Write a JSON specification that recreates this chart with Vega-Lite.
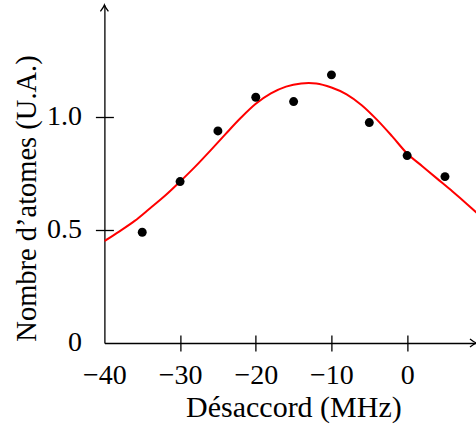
{
  "$schema": "https://vega.github.io/schema/vega-lite/v6.json",
  "width": 372,
  "height": 338,
  "autosize": {"type": "none"},
  "padding": {"left": 104.4, "top": 5, "right": 0, "bottom": 87},
  "background": "white",
  "config": {"view": {"stroke": null}, "font": "Liberation Serif"},
  "datasets": {
    "measures": [
      {"detuning": -35, "atoms": 0.49},
      {"detuning": -30, "atoms": 0.714},
      {"detuning": -25, "atoms": 0.938},
      {"detuning": -20, "atoms": 1.087},
      {"detuning": -15, "atoms": 1.068},
      {"detuning": -10, "atoms": 1.186},
      {"detuning": -5, "atoms": 0.975},
      {"detuning": 0, "atoms": 0.829},
      {"detuning": 5, "atoms": 0.736}
    ],
    "fit": [
      {"detuning": -40, "atoms": 0.451},
      {"detuning": -38, "atoms": 0.494},
      {"detuning": -36, "atoms": 0.54},
      {"detuning": -34, "atoms": 0.595},
      {"detuning": -32, "atoms": 0.651},
      {"detuning": -30, "atoms": 0.714},
      {"detuning": -28, "atoms": 0.78},
      {"detuning": -26, "atoms": 0.851},
      {"detuning": -24, "atoms": 0.924},
      {"detuning": -22, "atoms": 0.995},
      {"detuning": -20, "atoms": 1.058},
      {"detuning": -18, "atoms": 1.104},
      {"detuning": -16, "atoms": 1.134},
      {"detuning": -14, "atoms": 1.148},
      {"detuning": -13, "atoms": 1.15},
      {"detuning": -12, "atoms": 1.148},
      {"detuning": -10, "atoms": 1.13},
      {"detuning": -8, "atoms": 1.1},
      {"detuning": -6, "atoms": 1.052},
      {"detuning": -4, "atoms": 0.988},
      {"detuning": -2, "atoms": 0.915},
      {"detuning": 0, "atoms": 0.838},
      {"detuning": 2, "atoms": 0.782},
      {"detuning": 4, "atoms": 0.726},
      {"detuning": 6, "atoms": 0.67},
      {"detuning": 8, "atoms": 0.612},
      {"detuning": 9.5, "atoms": 0.567}
    ]
  },
  "layer": [
    {
      "data": {"name": "fit"},
      "mark": {"type": "line", "color": "#ff0000", "strokeWidth": 2, "interpolate": "monotone", "clip": true},
      "encoding": {
        "x": {
          "field": "detuning", "type": "quantitative",
          "scale": {"domain": [-40, 9.15], "nice": false, "zero": false},
          "axis": {"orient": "bottom", "values": [-30, -20, -10, 0], "tickSize": -8, "tickColor": "black", "tickWidth": 1.3, "labels": false, "domain": false, "title": null, "grid": false}
        },
        "y": {
          "field": "atoms", "type": "quantitative",
          "scale": {"domain": [0, 1.495], "nice": false},
          "axis": {"orient": "left", "values": [0.5, 1], "tickSize": -9, "tickColor": "black", "tickWidth": 1.3, "labels": false, "domain": false, "title": null, "grid": false}
        }
      }
    },
    {
      "data": {"name": "measures"},
      "mark": {"type": "circle", "color": "black", "size": 80, "opacity": 1},
      "encoding": {
        "x": {
          "field": "detuning", "type": "quantitative",
          "axis": {
            "orient": "bottom", "values": [-40, -30, -20, -10, 0], "format": "d",
            "tickSize": 8, "tickColor": "black", "tickWidth": 1.3,
            "tickOpacity": {"condition": {"test": "datum.value == -40", "value": 0}, "value": 1},
            "domainColor": "black", "domainWidth": 1.3,
            "labelFont": "Liberation Serif", "labelFontSize": 28, "labelColor": "black", "labelPadding": 11,
            "labelFlush": false, "labelOverlap": false, "grid": false,
            "title": "Désaccord (MHz)", "titleFont": "Liberation Serif", "titleFontSize": 30, "titleFontWeight": "normal", "titleColor": "black",
            "titleX": 189, "titleY": 74, "titleBaseline": "alphabetic"
          }
        },
        "y": {
          "field": "atoms", "type": "quantitative",
          "axis": {
            "orient": "left", "values": [0, 0.5, 1],
            "labelExpr": "datum.value == 0 ? '0' : format(datum.value, '.1f')",
            "tickSize": 9, "tickColor": "black", "tickWidth": 1.3,
            "tickOpacity": {"condition": {"test": "datum.value == 0", "value": 0}, "value": 1},
            "domainColor": "black", "domainWidth": 1.3,
            "labelFont": "Liberation Serif", "labelFontSize": 28, "labelColor": "black", "labelPadding": 14,
            "labelFlush": false, "labelOverlap": false, "grid": false,
            "title": "Nombre d’atomes (U.A.)", "titleFont": "Liberation Serif", "titleFontSize": 28.5, "titleFontWeight": "normal", "titleColor": "black",
            "titleAngle": -90, "titleX": -69, "titleY": 193, "titleAlign": "center", "titleBaseline": "alphabetic"
          }
        }
      }
    },
    {
      "data": {"values": [{}]},
      "mark": {"type": "point", "shape": "M-1,1.6 Q-0.2,0.6 0,0 Q0.2,0.6 1,1.6", "filled": false, "stroke": "black", "strokeWidth": 1.3, "size": 64, "opacity": 1, "clip": false},
      "encoding": {"x": {"datum": -40, "type": "quantitative", "axis": null}, "y": {"datum": 1.495, "type": "quantitative", "axis": null}}
    },
    {
      "data": {"values": [{}]},
      "mark": {"type": "point", "shape": "M-1.6,-1 Q-0.6,-0.2 0,0 Q-0.6,0.2 -1.6,1", "filled": false, "stroke": "black", "strokeWidth": 1.3, "size": 64, "opacity": 1, "clip": false},
      "encoding": {"x": {"datum": 9.15, "type": "quantitative", "axis": null}, "y": {"datum": 0, "type": "quantitative", "axis": null}}
    }
  ],
  "resolve": {"axis": {"x": "independent", "y": "independent"}}
}
